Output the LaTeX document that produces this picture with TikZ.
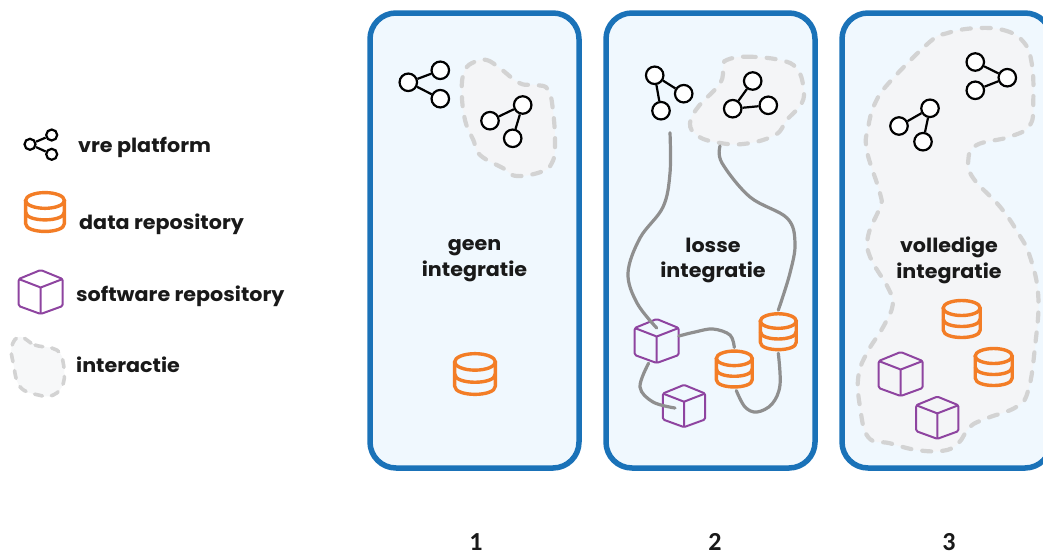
\documentclass[tikz,border=0pt]{standalone}
\usepackage{fontspec}
\setmainfont{Poppins}[BoldFont={Poppins Bold},BoldFeatures={FakeStretch=1.06}]
\newfontfamily\numfont{Carlito}[BoldFont={Carlito Bold}]
\usepackage{tikz}
\definecolor{ColPanel}{RGB}{240,248,254}
\definecolor{ColBorder}{RGB}{26,114,184}
\definecolor{ColBlob}{RGB}{244,245,247}
\definecolor{ColDash}{RGB}{211,211,211}
\definecolor{ColLink}{RGB}{143,143,143}
\definecolor{ColData}{RGB}{243,125,38}
\definecolor{ColSoft}{RGB}{142,68,160}
\tikzstyle{PanelBox}=[draw=ColBorder,fill=ColPanel,line width=5.5pt,rounded corners=26pt,
minimum width=209pt,minimum height=455pt,inner sep=0pt]
\tikzstyle{NodeGraph}=[circle,draw=black,fill=white,line width=2.2pt,inner sep=0pt,minimum size=17.5pt]
\tikzstyle{NodeSmall}=[circle,draw=black,line width=2.2pt,inner sep=0pt,minimum size=11pt]
\tikzstyle{EdgeGraph}=[black,line width=2.2pt]
\tikzstyle{BlobArea}=[fill=ColBlob,draw=ColDash,line width=4.2pt,line cap=round,
dash pattern=on 9pt off 11pt]
\tikzstyle{LinkGrey}=[ColLink,line width=3.2pt,line cap=round]
\tikzstyle{LabelText}=[inner sep=0pt,font=\fontsize{19.5}{25.5}\selectfont\bfseries,text=black!90]
\tikzstyle{LegendText}=[LabelText,anchor=base west]
\tikzstyle{NumText}=[inner sep=0pt,font=\fontsize{26}{26}\selectfont\numfont\bfseries,text=black!90]
\tikzstyle{IconBox}=[transform shape,inner sep=0pt,minimum size=44pt]
\tikzset{
  DataRepo/.pic={
    \node[IconBox](-box){};
    \draw[ColData,line width=3.4pt,line cap=round] (0,-11) ellipse [x radius=18.5,y radius=7.5];
    \draw[ColData,line width=3.4pt,line cap=round,line join=round] (-18.5,-11)--(-18.5,11)
      .. controls (-18.5,21) and (18.5,21) .. (18.5,11)--(18.5,-11);
    \draw[ColData,line width=3.4pt] (-18.5,0) .. controls (-18.5,10) and (18.5,10) .. (18.5,0);
  },
  SoftRepo/.pic={
    \node[IconBox](-box){};
    \draw[ColSoft,line width=2pt,line join=round,rounded corners=1.5pt] (0,-22)--(22,-13)--(22,14)--(0,22)--(-22,14)--(-22,-13)--cycle;
    \draw[ColSoft,line width=2pt,line join=round] (-22,-13)--(0,-4.5)--(22,-13) (0,-4.5)--(0,22);
  }
}
\begin{document}
\begin{tikzpicture}[x=1pt,y=-1pt]
  \useasboundingbox (0,0) rectangle (1043,555);
  % panels
  \node[PanelBox](PanelA)at(474.5,240.5){};
  \node[PanelBox](PanelB)at(710.5,240.5){};
  \node[PanelBox](PanelC)at(946.5,240.5){};
  % interaction areas
  \draw[BlobArea] plot[smooth cycle,tension=.7] coordinates {(475,61.7)(486.7,60)(500,68.3)(520,83.3)(536.7,85)(548.3,90)(553.3,113.3)(555,146.7)(551.7,163.3)(541.7,171.7)(516.7,176)(503.3,168.3)(480,155)(473.3,140)(465,120)(461.7,90)(465,70)};
  \draw[BlobArea] plot[smooth cycle,tension=.7] coordinates {(726.7,60)(746.7,56.7)(780,60)(796.7,68.3)(803.3,86.7)(801.7,103.3)(786.7,120)(775,135)(743.3,144)(713.3,141.7)(696.7,135)(690,123.3)(698.3,106.7)(720,83.3)(723.3,66.7)};
  \draw[BlobArea] plot[smooth cycle,tension=.7] coordinates {(973.3,28.3)(1003.3,30)(1023.3,41.7)(1031.7,63.3)(1033.3,100)(1030,125)(1010,136.7)(976.7,145)(968.3,160)(973.3,178.3)(1000,206.7)(1018.3,233.3)(1030,256.7)(1038.3,296.7)(1035,346.7)(1028.3,390)(1016.7,406.7)(986.7,418.3)(970,426.7)(958.3,443.3)(943.3,450.7)(916.7,450)(890,443.3)(868.3,437.3)(860,406.7)(858.3,376.7)(866.7,353.3)(883.3,326.7)(892.7,305)(888.3,288.3)(870,256.7)(868.3,235)(880,206.7)(880,193.3)(866.7,150)(868.3,126.7)(875,103.3)(890,81.7)(930,41.7)(946.7,33.3)};
  \draw[BlobArea,fill=ColBlob!70!white,line width=3.6pt,dash pattern=on 8pt off 9pt] plot[smooth cycle,tension=.7] coordinates {(20,336.7)(35,345)(56.7,350)(63.3,363.3)(63.3,383.3)(53.3,395)(38.3,395)(20,386.7)(13.3,363.3)(11.7,346.7)};
  % repositories
  \pic[scale=1.1](DataA)at(475,374){DataRepo};
  \pic[scale=.97](DataB)at(734.3,369){DataRepo};
  \pic[scale=.97](DataC)at(778.3,331.7){DataRepo};
  \pic[scale=1](DataD)at(961.7,319){DataRepo};
  \pic[scale=1](DataE)at(993.7,367){DataRepo};
  \pic[scale=1.05](DataF)at(45,212){DataRepo};
  \pic[scale=1](SoftA)at(656.7,341){SoftRepo};
  \pic[scale=.96](SoftB)at(684,406){SoftRepo};
  \pic[scale=1](SoftC)at(900.7,374){SoftRepo};
  \pic[scale=.96](SoftD)at(937.3,417.7){SoftRepo};
  \pic[scale=1](SoftE)at(40.7,292){SoftRepo};
  % vre platforms
  \node[NodeSmall](la)at(30,144.3){};
  \node[NodeSmall](lb)at(51.7,135){};
  \node[NodeSmall](lc)at(51.7,154.3){};
  \draw[EdgeGraph](la)--(lb);
  \draw[EdgeGraph](la)--(lc);
  \node[NodeGraph](a)at(408.3,82.3){};
  \node[NodeGraph](b)at(440.3,70.3){};
  \node[NodeGraph](c)at(440.3,98.7){};
  \draw[EdgeGraph](a)--(b);
  \draw[EdgeGraph](a)--(c);
  \node[NodeGraph](d)at(522.7,105){};
  \node[NodeGraph](e)at(490,120.7){};
  \node[NodeGraph](f)at(512.7,138.3){};
  \draw[EdgeGraph](d)--(e);
  \draw[EdgeGraph](d)--(f);
  \node[NodeGraph](g)at(654.7,75.3){};
  \node[NodeGraph](h)at(683.7,93.7){};
  \node[NodeGraph](i)at(661,110.7){};
  \draw[EdgeGraph](g)--(h);
  \draw[EdgeGraph](g)--(i);
  \node[NodeGraph](j)at(752.7,81){};
  \node[NodeGraph](k)at(732.7,108.7){};
  \node[NodeGraph](l)at(768.3,105.3){};
  \draw[EdgeGraph](j)--(k);
  \draw[EdgeGraph](k)--(l);
  \node[NodeGraph](m)at(975.3,62){};
  \node[NodeGraph](n)at(1007.3,77.7){};
  \node[NodeGraph](o)at(975.3,90.3){};
  \draw[EdgeGraph](m)--(n);
  \draw[EdgeGraph](o)--(n);
  \node[NodeGraph](p)at(930,108.3){};
  \node[NodeGraph](q)at(899,126){};
  \node[NodeGraph](r)at(923,141.7){};
  \draw[EdgeGraph](p)--(q);
  \draw[EdgeGraph](p)--(r);
  % links
  \coordinate (BlobEnd) at (720,146);
  \draw[LinkGrey] plot[smooth,tension=.6] coordinates {([shift={(9pt,-22pt)}]i.center)(670,173)(663,207)(640,238)(628,273)(637,303)([yshift=13pt]SoftA-box.center)};
  \draw[LinkGrey] plot[smooth,tension=.6] coordinates {(BlobEnd)(722,163)(750,197)(787,218)(795,243)(790,273)(DataC-box.north)};
  \draw[LinkGrey] plot[smooth,tension=.6] coordinates {([yshift=5pt]SoftA-box.east)(695,332)(713,329)(730,335)(DataB-box.north)};
  \draw[LinkGrey] plot[smooth,tension=.6] coordinates {([xshift=2pt]DataB-box.south)(745,407)(757,412)(772,404)(780,385)(DataC-box.south)};
  \draw[LinkGrey] plot[smooth,tension=.6] coordinates {(SoftA-box.250)(640,387)(653,402)([xshift=-9pt,yshift=-2pt]SoftB-box.center)};
  % labels
  \node[LegendText](tvre)at(78,152){vre platform};
  \node[LegendText](tdata)at(79,229){data repository};
  \node[LegendText](tsoft)at(76,301){software repository};
  \node[LegendText](tint)at(76,372){interactie};
  \node[LabelText,align=center](tgeen)at(474.5,260.5){geen\\integratie};
  \node[LabelText,align=center](tlosse)at(713,260.5){losse\\integratie};
  \node[LabelText,align=center](tvol)at(949,260.5){volledige\\integratie};
  \node[NumText](nra)at(476,542){1};
  \node[NumText](nrb)at(715,542){2};
  \node[NumText](nrc)at(949,542){3};
\end{tikzpicture}
\end{document}
